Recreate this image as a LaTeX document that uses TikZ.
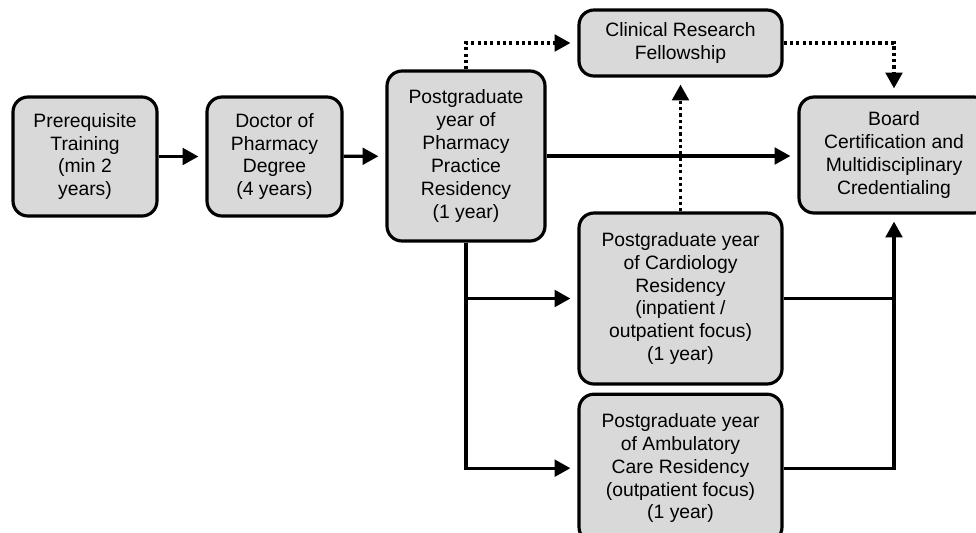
\documentclass[tikz,border=0pt]{standalone}
\usepackage{fontspec}
\setmainfont{Liberation Sans}
\usepackage{xcolor}
\usepackage{tikz}
\usetikzlibrary{arrows.meta,positioning}
\definecolor{boxgray}{HTML}{D9D9D9}

\begin{document}
\begin{tikzpicture}[
    box/.style={rectangle, rounded corners=0.3cm, draw, line width=1.8pt, fill=boxgray, font=\fontsize{11}{13}\selectfont, align=center, inner sep=2pt},
    arrow/.style={-{Triangle[length=9pt,width=9.5pt]}, line width=1.8pt, shorten >=4pt},
    dotarrow/.style={arrow, dash pattern=on 1.8pt off 1.8pt}
]
    \clip (0,0) rectangle (19.52,-10.64);

    % Main track
    \node[box, minimum width=2.88cm, minimum height=2.38cm] (prereq) at (1.70,-3.13) {Prerequisite \\ Training \\ (min 2 \\ years)};
    \node[box, minimum width=2.70cm, minimum height=2.38cm] (pharmd) at (5.49,-3.13) {Doctor of \\ Pharmacy \\ Degree \\ (4 years)};
    \node[box, minimum width=3.16cm, minimum height=3.40cm] (pgy1) at (9.32,-3.12) {Postgraduate \\ year of \\ Pharmacy \\ Practice \\ Residency \\ (1 year)};

    % Fellowship and board
    \node[box, minimum width=4.06cm, minimum height=1.32cm] (fellow) at (13.61,-0.86) {Clinical Research \\ Fellowship};
    \node[box, minimum width=3.80cm, minimum height=2.32cm] (board) at (17.88,-3.10) {Board \\ Certification and \\ Multidisciplinary \\ Credentialing};

    % Second year residencies
    \node[box, minimum width=4.06cm, minimum height=3.42cm] (cardio) at (13.61,-5.97) {Postgraduate year \\ of Cardiology \\ Residency \\ (inpatient / \\ outpatient focus) \\ (1 year)};
    \node[box, minimum width=4.06cm, minimum height=2.96cm, below=0.14cm of cardio] (ambul) {Postgraduate year \\ of Ambulatory \\ Care Residency \\ (outpatient focus) \\ (1 year)};

    % Arrows
    \draw[arrow] (prereq) -- (pharmd);
    \draw[arrow] (pharmd) -- (pgy1);
    \draw[arrow] (pgy1.east) -- (pgy1.east -| board.west);
    \draw[arrow] (pgy1.south) |- (ambul.west);
    \draw[arrow] (pgy1.south |- cardio.west) -- (cardio.west);
    \draw[arrow] (ambul.east) -| (board.south);
    \draw[line width=1.8pt] (cardio.east) -- (cardio.east -| board.south);

    % Dotted paths
    \draw[dotarrow] (pgy1.north) |- (fellow.west);
    \draw[dotarrow] (fellow.east) -| (board.north);
    \draw[dotarrow] (cardio.north) -- (fellow.south);
\end{tikzpicture}
\end{document}
